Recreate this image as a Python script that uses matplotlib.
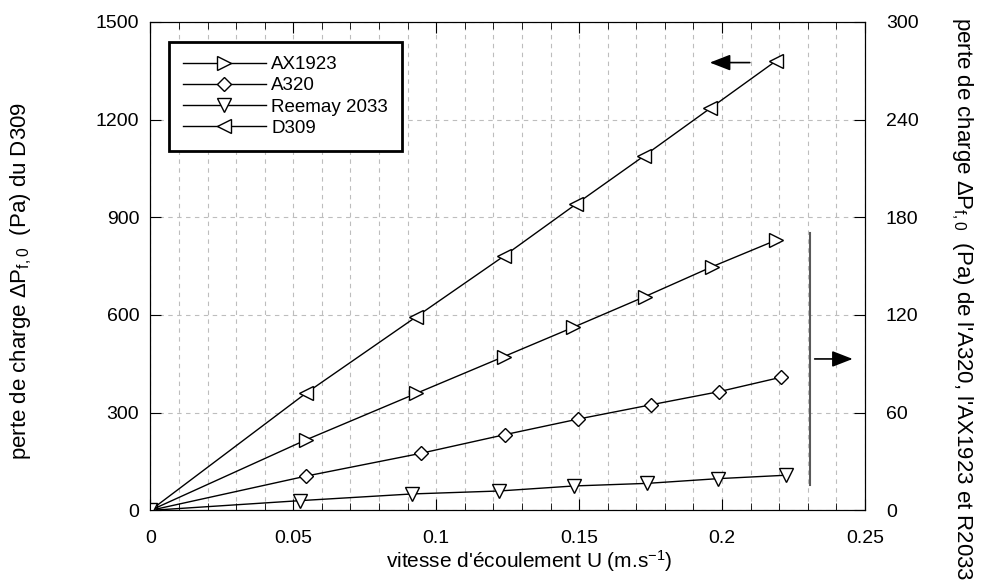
import matplotlib
matplotlib.use('Agg')
import matplotlib.pyplot as plt
import matplotlib.ticker as ticker

plt.rcParams['font.family'] = ['Liberation Sans', 'DejaVu Sans']
plt.rcParams['mathtext.fontset'] = 'custom'
plt.rcParams['mathtext.rm'] = 'Liberation Sans'
plt.rcParams['mathtext.it'] = 'Liberation Sans:italic'

# D309 on the left axis (Pa)
d309_u = [0, 0.0543, 0.0931, 0.1237, 0.149, 0.1728, 0.1959, 0.219]
d309_dp = [0, 359, 595, 781, 941, 1089, 1235, 1381]
# the others on the right axis (Pa)
ax1923_u = [0, 0.0543, 0.0931, 0.1236, 0.1479, 0.1729, 0.1966, 0.219]
ax1923_dp = [0, 43.2, 71.9, 94.4, 112.4, 131.2, 149.7, 166.0]
a320_u = [0, 0.0546, 0.0945, 0.124, 0.1497, 0.1753, 0.1989, 0.2205]
a320_dp = [0, 21.1, 35.0, 46.5, 56.1, 64.9, 72.9, 81.7]
reemay_u = [0, 0.0525, 0.0916, 0.1219, 0.1482, 0.1739, 0.1987, 0.2225]
reemay_dp = [0, 6.0, 10.1, 11.9, 15.0, 16.6, 19.5, 21.6]

labels = ['AX1923', 'A320', 'Reemay 2033', 'D309']
x_ticks = [0, 0.05, 0.1, 0.15, 0.2, 0.25]
x_ticklabels = ['0', '0.05', '0.1', '0.15', '0.2', '0.25']
left_ticks = [0, 300, 600, 900, 1200, 1500]
right_ticks = [0, 60, 120, 180, 240, 300]

fig = plt.figure(figsize=(9.88, 5.88), dpi=100)
ax = fig.add_axes([0.1522, 0.132, 0.7233, 0.8308])
ax2 = ax.twinx()

style = dict(color='black', linewidth=1.0, markerfacecolor='white',
             markeredgecolor='black', markeredgewidth=1.0)
l4, = ax.plot(d309_u, d309_dp, marker='<', markersize=10, **style, zorder=3)
l1, = ax2.plot(ax1923_u, ax1923_dp, marker='>', markersize=10, **style)
l2, = ax2.plot(a320_u, a320_dp, marker='D', markersize=7, **style)
l3, = ax2.plot(reemay_u, reemay_dp, marker='v', markersize=10, **style)

ax.set_xlim(0, 0.25)
ax.set_ylim(0, 1500)
ax2.set_ylim(0, 300)
ax.set_xticks(x_ticks)
ax.set_xticklabels(x_ticklabels)
ax.xaxis.set_minor_locator(ticker.MultipleLocator(0.01))
ax.set_yticks(left_ticks)
ax2.set_yticks(right_ticks)

grid = dict(color='#bdbdbd', linestyle=(0, (4, 4)), linewidth=0.8)
ax.grid(True, which='both', axis='x', **grid)
ax.grid(True, which='major', axis='y', **grid)
ax.set_axisbelow(True)

ax.tick_params(axis='x', which='both', direction='in', top=True, labelsize=14, pad=14)
ax.tick_params(axis='x', which='major', length=8)
ax.tick_params(axis='x', which='minor', length=5)
ax.tick_params(axis='y', which='major', direction='in', length=8, labelsize=14, pad=8)
ax2.tick_params(axis='y', which='major', direction='in', length=8, labelsize=14, pad=15)

ax.set_xlabel("vitesse d'écoulement U (m.s$^{-1}$)", fontsize=15)
ax.xaxis.set_label_coords(0.53, -0.077)
ax.set_ylabel(r'perte de charge ΔP$_{\mathrm{f,0}}$  (Pa) du D309', fontsize=16, va='center')
ax.yaxis.set_label_coords(-0.18, 0.47)
ax2.set_ylabel(r"perte de charge ΔP$_{\mathrm{f,0}}$  (Pa) de l'A320, l'AX1923 et R2033",
               fontsize=16, rotation=270, va='center')
ax2.yaxis.set_label_coords(1.136, 0.433)

# arrows showing which axis each group belongs to
arrow = dict(arrowstyle='-|>,head_length=0.9,head_width=0.35', color='black',
             lw=1.2, shrinkA=0, shrinkB=0, mutation_scale=14)
ax.annotate('', xy=(0.1957, 1375), xytext=(0.2097, 1375), arrowprops=arrow)
ax.annotate('', xy=(0.2457, 465), xytext=(0.2324, 465), arrowprops=arrow)
ax.plot([0.2306, 0.2306], [78, 852], color='0.35', linewidth=1.5)

leg = ax2.legend([l1, l2, l3, l4], labels, loc='upper left',
                 bbox_to_anchor=(0.026, 0.959), borderaxespad=0, numpoints=1,
                 handlelength=4.4, handletextpad=0.3, fontsize=13.5, fancybox=False,
                 framealpha=1, edgecolor='black', labelspacing=0.22, borderpad=0.75)
leg.get_frame().set_linewidth(2.0)

fig.savefig('out.png', dpi=100)
